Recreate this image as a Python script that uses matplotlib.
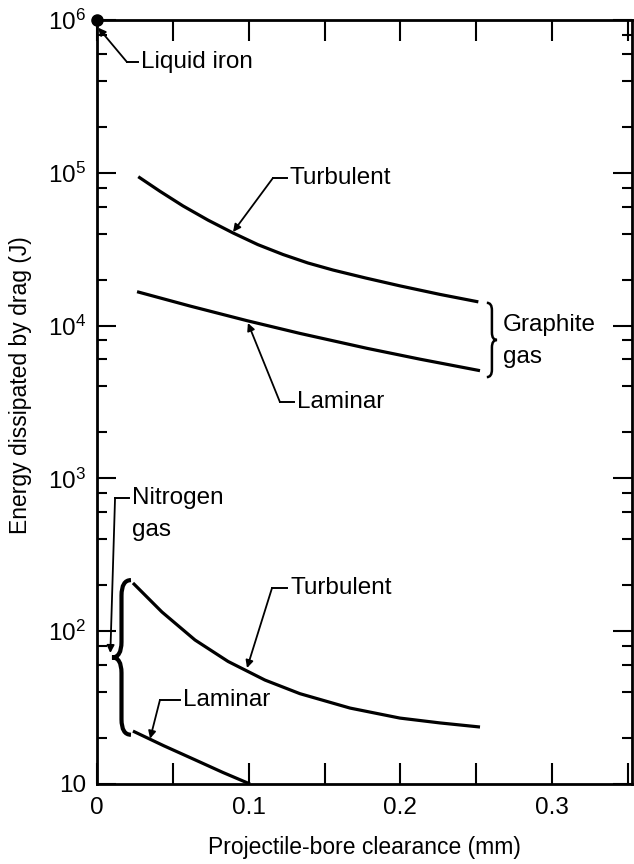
import numpy as np
import matplotlib
matplotlib.use("Agg")
import matplotlib.pyplot as plt
from matplotlib.path import Path
from matplotlib.patches import PathPatch
from matplotlib.ticker import FixedLocator, LogLocator, MultipleLocator, NullFormatter

plt.rcParams["font.family"] = ["Liberation Sans", "DejaVu Sans"]
plt.rcParams["mathtext.fontset"] = "custom"
plt.rcParams["mathtext.rm"] = "Liberation Sans"
plt.rcParams["mathtext.it"] = "Liberation Sans"

# ---------------------------------------------------------------------------
# Data
# ---------------------------------------------------------------------------
graphite_turb_x = [0.0272, 0.0415, 0.0567, 0.0732, 0.0897, 0.106, 0.1226, 0.139,
                   0.1556, 0.177, 0.1997, 0.2261, 0.2514]
graphite_turb_y = [94300, 75700, 60700, 49000, 40400, 33900, 29200, 25700,
                   23100, 20500, 18200, 16000, 14300]

graphite_lam_x = [0.0264, 0.0613, 0.0989, 0.1338, 0.178, 0.2129, 0.2525]
graphite_lam_y = [16670, 13430, 10770, 8890, 7100, 6030, 5070]

nitrogen_turb_x = [0.0237, 0.0428, 0.0646, 0.0864, 0.1107, 0.1338, 0.1668, 0.1997, 0.2261, 0.2525]
nitrogen_turb_y = [206.8, 133.6, 87.6, 63.4, 47.9, 39.0, 31.4, 27.0, 25.1, 23.6]

nitrogen_lam_x = [0.0237, 0.044, 0.0646, 0.083, 0.1009]
nitrogen_lam_y = [22.2, 17.8, 14.4, 11.9, 10.0]

liquid_iron_x = [0.0]
liquid_iron_y = [1e6]

x_ticks = [0, 0.1, 0.2, 0.3]
x_tick_labels = ["0", "0.1", "0.2", "0.3"]
y_ticks = [10, 1e2, 1e3, 1e4, 1e5, 1e6]
y_tick_labels = ["10", "$10^2$", "$10^3$", "$10^4$", "$10^5$", "$10^6$"]

# labels: text, text anchor, elbow point, arrow tip
callouts = [
    ("Liquid iron", (0.029, 5.3e5), (0.0198, 5.3e5), (0.0008, 8.9e5)),
    ("Turbulent", (0.127, 9.25e4), (0.116, 9.25e4), (0.0897, 4.1e4)),
    ("Laminar", (0.132, 3.16e3), (0.1206, 3.16e3), (0.0995, 1.04e4)),
    ("Turbulent", (0.1273, 192), (0.1154, 192), (0.0989, 57.4)),
    ("Laminar", (0.0567, 35.5), (0.0415, 35.5), (0.035, 19.8)),
    ("Nitrogen", (0.023, 745), (0.0119, 745), (0.0088, 72)),
]

LINE_LW = 2.3
FS_TICK = 17.5
FS_LABEL = 16.5
FS_NOTE = 17.5

fig = plt.figure(figsize=(6.34, 8.64), dpi=100)
ax = fig.add_axes([97 / 634, 80 / 864, 535 / 634, 764 / 864])
ax.set_yscale("log")
ax.set_xlim(0, 0.3527)
ax.set_ylim(10, 1e6)

for xs, ys in [(graphite_turb_x, graphite_turb_y), (graphite_lam_x, graphite_lam_y),
               (nitrogen_turb_x, nitrogen_turb_y), (nitrogen_lam_x, nitrogen_lam_y)]:
    ax.plot(xs, ys, color="black", lw=LINE_LW, solid_capstyle="butt",
            solid_joinstyle="round")

ax.plot(liquid_iron_x, liquid_iron_y, "o", color="black", ms=8, clip_on=False, zorder=5)

# ticks
ax.xaxis.set_major_locator(FixedLocator(x_ticks))
ax.set_xticklabels(x_tick_labels)
ax.xaxis.set_minor_locator(MultipleLocator(0.05))
ax.yaxis.set_major_locator(FixedLocator(y_ticks))
ax.set_yticklabels(y_tick_labels)
ax.yaxis.set_minor_locator(LogLocator(base=10, subs=[2, 4, 6, 8]))
ax.yaxis.set_minor_formatter(NullFormatter())
ax.tick_params(axis="both", which="both", direction="in", top=True, right=True,
               width=1.5, labelsize=FS_TICK)
ax.tick_params(axis="x", which="both", length=15, pad=9)
ax.tick_params(axis="y", which="major", length=14, pad=8)
ax.tick_params(axis="y", which="minor", length=7)
for sp in ax.spines.values():
    sp.set_linewidth(2.0)

ax.set_xlabel("Projectile-bore clearance (mm)", fontsize=FS_LABEL)
ax.set_ylabel("Energy dissipated by drag (J)", fontsize=FS_LABEL)
ax.xaxis.set_label_coords(0.5, -0.068)
ax.yaxis.set_label_coords(-0.1215, 0.522)

# callouts with elbow leaders
for text, (tx, ty), (ex, ey), (px, py) in callouts:
    ax.text(tx, ty, text, fontsize=FS_NOTE, ha="left", va="center")
    ax.plot([ex, tx - 0.002], [ey, ey], color="black", lw=1.4)
    ax.annotate("", xy=(px, py), xytext=(ex, ey),
                arrowprops=dict(arrowstyle="-|>", lw=1.3, color="black",
                                mutation_scale=11, shrinkA=0, shrinkB=0))

ax.text(0.023, 459, "gas", fontsize=FS_NOTE, ha="left", va="center")
ax.text(0.2676, 1.01e4, "Graphite", fontsize=FS_NOTE, ha="left", va="center")
ax.text(0.2676, 6.2e3, "gas", fontsize=FS_NOTE, ha="left", va="center")


def brace(ax, x_back, x_tip, y0, y1, lw):
    """Vertical curly brace between y0 and y1, ends at x_back, point at x_tip."""
    to_ax = ax.transData + ax.transAxes.inverted()
    (xb, yb0), (xt, yb1) = to_ax.transform([(x_back, y0), (x_tip, y1)])
    xm = (xb + xt) / 2
    ym = (yb0 + yb1) / 2
    c = abs(yb1 - yb0) * 0.1
    s = np.sign(yb1 - yb0)
    verts = [(xb, yb0), (xm, yb0), (xm, yb0 + s * c),
             (xm, ym - s * c), (xm, ym), (xt, ym),
             (xm, ym), (xm, ym + s * c),
             (xm, yb1 - s * c), (xm, yb1), (xb, yb1)]
    codes = [Path.MOVETO, Path.CURVE3, Path.CURVE3,
             Path.LINETO, Path.CURVE3, Path.CURVE3,
             Path.CURVE3, Path.CURVE3,
             Path.LINETO, Path.CURVE3, Path.CURVE3]
    patch = PathPatch(Path(verts, codes), transform=ax.transAxes, fill=False,
                      lw=lw, color="black", clip_on=False)
    ax.add_patch(patch)


fig.canvas.draw()
brace(ax, 0.2570, 0.2637, 1.41e4, 4.6e3, 1.8)
brace(ax, 0.0224, 0.0099, 216, 21, 3.0)

fig.savefig("out.png", dpi=100, facecolor="white")
